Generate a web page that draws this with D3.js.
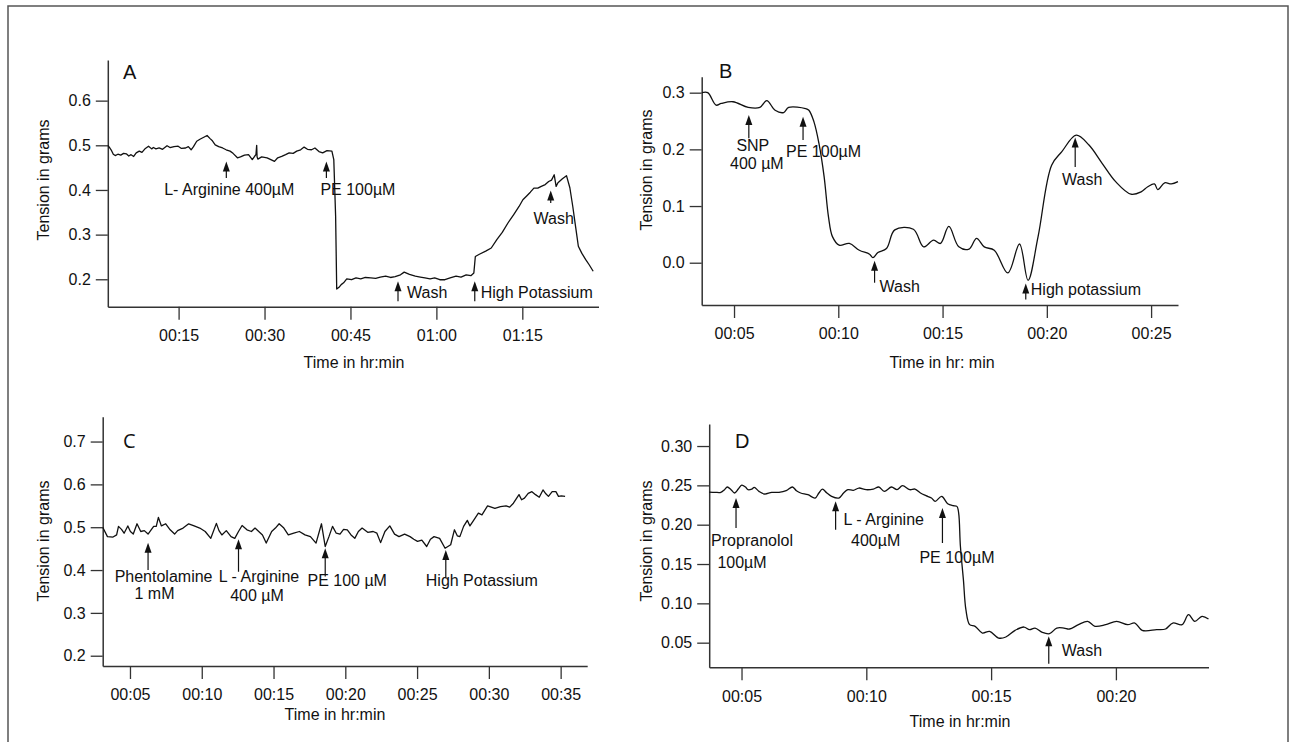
<!DOCTYPE html>
<html>
<head>
<meta charset="utf-8">
<script src="https://cdn.jsdelivr.net/npm/d3@7/dist/d3.min.js"></script>
<style>
  html, body { margin: 0; padding: 0; background: #fff; }
  svg { display: block; font-family: "Liberation Sans", Arial, sans-serif; }
</style>
</head>
<body>
<div id="chart"></div>
<script>
const [WIDTH, HEIGHT] = [1290, 742];

// ---- data (time in minutes, tension in grams) ----
const timeA = [2.64, 3.0, 3.3, 3.6, 3.93, 4.4, 4.9, 5.4, 5.87, 6.3, 6.7, 7.16, 7.6, 8.13, 8.6, 9.2, 9.75, 10.3, 10.6, 11.04,
    11.6, 12.2, 12.98, 13.5, 14.2, 14.92, 15.5, 16.22, 16.7, 17.19, 17.6, 18.16, 18.8, 19.4, 19.97, 20.5, 20.9, 21.39, 22.0, 22.68,
    23.3, 23.98, 24.5, 25.27, 25.8, 26.5, 27.21, 27.86, 28.3, 28.5, 28.63, 28.7, 28.83, 29.5, 30.45, 31.1, 31.74, 32.3, 33.0, 33.68,
    34.3, 35.0, 35.62, 36.3, 36.91, 37.5, 38.21, 38.8, 39.5, 40.15, 40.9, 41.76, 42.09, 42.41, 42.6, 43.0, 43.38, 43.8, 44.35, 45.2,
    45.97, 46.8, 47.6, 48.56, 49.4, 50.2, 51.14, 52.0, 52.8, 53.73, 54.38, 55.3, 56.32, 57.2, 58.0, 58.9, 59.7, 60.6, 61.49, 62.4,
    63.43, 64.3, 65.2, 66.02, 66.54, 66.8, 67.5, 68.61, 69.58, 70.55, 71.5, 72.49, 73.5, 74.43, 75.1, 75.72, 76.4, 77.02, 77.7, 78.31,
    79.0, 79.6, 80.1, 80.57, 80.9, 81.22, 82.0, 82.71, 83.3, 83.81, 84.3, 84.78, 85.4, 86.07, 86.7, 87.37];
const tensionA = [0.500, 0.494, 0.488, 0.480, 0.477, 0.480, 0.478, 0.482, 0.481, 0.476, 0.479, 0.475, 0.483, 0.487, 0.484, 0.493, 0.498, 0.492, 0.495, 0.492,
    0.494, 0.491, 0.499, 0.495, 0.497, 0.498, 0.493, 0.494, 0.497, 0.490, 0.497, 0.509, 0.514, 0.518, 0.522, 0.515, 0.510, 0.501, 0.497, 0.494,
    0.490, 0.487, 0.482, 0.472, 0.474, 0.478, 0.479, 0.468, 0.476, 0.479, 0.500, 0.474, 0.469, 0.474, 0.472, 0.468, 0.464, 0.472, 0.475, 0.479,
    0.483, 0.482, 0.487, 0.490, 0.496, 0.491, 0.490, 0.494, 0.486, 0.483, 0.488, 0.487, 0.468, 0.341, 0.178, 0.182, 0.188, 0.192, 0.201, 0.199,
    0.203, 0.201, 0.204, 0.203, 0.202, 0.205, 0.207, 0.204, 0.206, 0.210, 0.216, 0.211, 0.207, 0.205, 0.203, 0.201, 0.203, 0.199, 0.199, 0.203,
    0.207, 0.205, 0.210, 0.208, 0.214, 0.251, 0.256, 0.263, 0.270, 0.289, 0.305, 0.326, 0.345, 0.363, 0.378, 0.386, 0.395, 0.404, 0.404, 0.408,
    0.412, 0.419, 0.422, 0.434, 0.408, 0.416, 0.425, 0.432, 0.405, 0.363, 0.318, 0.274, 0.258, 0.244, 0.232, 0.218];

const timeB = [3.46, 3.74, 4.14, 4.39, 4.95, 5.68, 6.24, 6.57, 6.97, 7.38, 7.62, 8.43, 8.59, 8.83, 9.07, 9.32, 9.53, 9.72, 10.04, 10.53,
    11.01, 11.50, 11.66, 11.90, 12.31, 12.71, 13.60, 14.09, 14.57, 14.90, 15.30, 15.78, 16.27, 16.63, 17.00, 17.48, 18.13, 18.69, 19.10, 19.58,
    20.23, 20.72, 21.41, 22.01, 22.66, 23.30, 24.03, 24.52, 24.84, 25.16, 25.32, 25.65, 25.97, 26.29];
const tensionB = [0.300, 0.300, 0.278, 0.281, 0.284, 0.274, 0.274, 0.286, 0.269, 0.265, 0.274, 0.272, 0.269, 0.249, 0.211, 0.152, 0.081, 0.046, 0.031, 0.034,
    0.022, 0.015, 0.009, 0.018, 0.025, 0.058, 0.059, 0.028, 0.040, 0.034, 0.064, 0.028, 0.024, 0.043, 0.028, 0.022, -0.018, 0.033, -0.031, 0.046,
    0.172, 0.196, 0.225, 0.208, 0.175, 0.143, 0.121, 0.125, 0.134, 0.139, 0.129, 0.141, 0.139, 0.143];

const timeC = [3.10, 3.43, 3.82, 4.07, 4.20, 4.41, 4.59, 4.85, 5.03, 5.23, 5.49, 5.75, 6.00, 6.26, 6.65, 6.83, 6.98, 7.19, 7.49, 7.80,
    8.11, 8.32, 8.70, 9.09, 9.47, 9.86, 10.24, 10.63, 11.02, 11.20, 11.40, 11.71, 12.04, 12.30, 12.56, 12.81, 13.15, 13.46, 13.71, 13.97,
    14.23, 14.49, 14.87, 15.13, 15.39, 15.72, 16.03, 16.41, 16.80, 17.19, 17.57, 17.96, 18.34, 18.60, 18.86, 19.11, 19.37, 19.63, 19.88, 20.14,
    20.40, 20.66, 20.91, 21.17, 21.56, 21.94, 22.20, 22.46, 22.76, 23.10, 23.43, 23.74, 24.13, 24.51, 24.77, 25.03, 25.33, 25.67, 25.93, 26.18,
    26.57, 26.95, 27.34, 27.60, 27.80, 27.98, 28.24, 28.50, 28.68, 28.88, 29.27, 29.52, 29.91, 30.17, 30.42, 30.81, 31.20, 31.45, 31.71, 32.10,
    32.28, 32.48, 32.74, 33.00, 33.25, 33.51, 33.77, 33.97, 34.15, 34.41, 34.67, 34.85, 35.05, 35.31];
const tensionC = [0.500, 0.478, 0.477, 0.482, 0.502, 0.495, 0.486, 0.503, 0.490, 0.484, 0.508, 0.490, 0.492, 0.484, 0.502, 0.502, 0.523, 0.503, 0.508, 0.494,
    0.484, 0.492, 0.498, 0.508, 0.503, 0.498, 0.490, 0.474, 0.509, 0.492, 0.482, 0.492, 0.478, 0.474, 0.490, 0.504, 0.494, 0.490, 0.498, 0.490,
    0.482, 0.463, 0.490, 0.498, 0.508, 0.498, 0.482, 0.486, 0.490, 0.482, 0.478, 0.463, 0.508, 0.455, 0.478, 0.502, 0.486, 0.484, 0.495, 0.494,
    0.482, 0.474, 0.490, 0.498, 0.488, 0.490, 0.486, 0.464, 0.490, 0.503, 0.484, 0.478, 0.484, 0.478, 0.472, 0.467, 0.470, 0.455, 0.472, 0.478,
    0.474, 0.451, 0.459, 0.494, 0.480, 0.478, 0.502, 0.516, 0.503, 0.513, 0.533, 0.529, 0.550, 0.547, 0.544, 0.548, 0.550, 0.547, 0.556, 0.576,
    0.564, 0.568, 0.579, 0.583, 0.576, 0.570, 0.587, 0.578, 0.572, 0.583, 0.583, 0.572, 0.573, 0.572];

const timeD = [3.705, 3.95, 4.17, 4.32, 4.43, 4.58, 4.72, 4.87, 5.01, 5.16, 5.26, 5.41, 5.51, 5.70, 5.92, 6.21, 6.50, 6.79, 7.04, 7.20,
    7.37, 7.66, 7.95, 8.10, 8.24, 8.42, 8.61, 8.90, 9.09, 9.26, 9.48, 9.70, 9.99, 10.28, 10.50, 10.72, 11.01, 11.23, 11.45, 11.74,
    11.95, 12.17, 12.39, 12.61, 12.76, 13.02, 13.26, 13.48, 13.63, 13.70, 13.77, 13.89, 13.99, 14.14, 14.36, 14.65, 14.94, 15.30, 15.59, 15.96,
    16.32, 16.54, 16.76, 17.05, 17.34, 17.63, 17.92, 18.14, 18.50, 18.87, 19.16, 19.59, 20.03, 20.47, 20.76, 21.05, 21.63, 21.99, 22.28, 22.65,
    22.91, 23.16, 23.45, 23.71];
const tensionD = [0.2415, 0.2411, 0.2411, 0.2445, 0.2479, 0.2445, 0.2403, 0.2453, 0.2504, 0.2479, 0.2445, 0.2453, 0.2475, 0.2424, 0.2390, 0.2411, 0.2411, 0.2432, 0.2479, 0.2432,
    0.2403, 0.2381, 0.2339, 0.2403, 0.2453, 0.2403, 0.2360, 0.2339, 0.2403, 0.2445, 0.2436, 0.2466, 0.2445, 0.2453, 0.2479, 0.2424, 0.2479, 0.2445, 0.2496, 0.2445,
    0.2453, 0.2403, 0.2369, 0.2339, 0.2297, 0.2360, 0.2267, 0.2242, 0.2233, 0.2148, 0.1725, 0.1301, 0.0919, 0.0729, 0.0708, 0.0623, 0.0644, 0.0559, 0.0572, 0.0657,
    0.0699, 0.0665, 0.0686, 0.0631, 0.0614, 0.0686, 0.0686, 0.0674, 0.0729, 0.0771, 0.0708, 0.0729, 0.0771, 0.0729, 0.0750, 0.0657, 0.0665, 0.0674, 0.0750, 0.0729,
    0.0856, 0.0771, 0.0835, 0.0801];

// tick values
const xTicksA = [15, 30, 45, 60, 75];
const xTicksB = [5, 10, 15, 20, 25];
const xTicksC = [5, 10, 15, 20, 25, 30, 35];
const xTicksD = [5, 10, 15, 20];
const yTicksA = [0.2, 0.3, 0.4, 0.5, 0.6];
const yTicksB = [0.0, 0.1, 0.2, 0.3];
const yTicksC = [0.2, 0.3, 0.4, 0.5, 0.6, 0.7];
const yTicksD = [0.05, 0.10, 0.15, 0.20, 0.25, 0.30];

// drug additions: time, arrow tip / tail tension
const eventsA = [
    { t: 23.33, tip: 0.464, tail: 0.427, text: ['L- Arginine 400µM'] },
    { t: 40.8, tip: 0.464, tail: 0.427, text: ['PE 100µM'] },
    { t: 53.3, tip: 0.1955, tail: 0.151, text: ['Wash'] },
    { t: 66.7, tip: 0.1955, tail: 0.151, text: ['High Potassium'] },
    { t: 79.96, tip: 0.399, tail: 0.371, text: ['Wash'] },
];
const eventsB = [
    { t: 5.71, tip: 0.2606, tail: 0.2194, text: ['SNP', '400 µM'] },
    { t: 8.31, tip: 0.2576, tail: 0.2165, text: ['PE 100µM'] },
    { t: 11.74, tip: 0.0035, tail: -0.0353, text: ['Wash'] },
    { t: 18.99, tip: -0.0365, tail: -0.0647, text: ['High potassium'] },
    { t: 21.36, tip: 0.221, tail: 0.169, text: ['Wash'] },
];
const eventsC = [
    { t: 6.26, tip: 0.464, tail: 0.400, text: ['Phentolamine', '1 mM'] },
    { t: 12.56, tip: 0.472, tail: 0.396, text: ['L - Arginine', '400 µM'] },
    { t: 18.6, tip: 0.451, tail: 0.385, text: ['PE 100 µM'] },
    { t: 27.0, tip: 0.447, tail: 0.381, text: ['High Potassium'] },
];
const eventsD = [
    { t: 4.78, tip: 0.2339, tail: 0.1958, text: ['Propranolol', '100µM'] },
    { t: 8.77, tip: 0.2297, tail: 0.1936, text: ['L - Arginine', '400µM'] },
    { t: 13.05, tip: 0.2212, tail: 0.1767, text: ['PE 100µM'] },
    { t: 17.31, tip: 0.0581, tail: 0.0233, text: ['Wash'] },
];

// ---- layout (pixels) ----
const FONT = 16;
const LINE_COLOR = '#111';
const AXIS_COLOR = '#333';

// label offsets relative to arrow tail: one [dx, dy, anchor] per line
const panels = [
    {
        letter: 'A', letterFont: '"Liberation Sans", Arial', letterPos: [123, 79],
        time: timeA, tension: tensionA, events: eventsA, xTicks: xTicksA, yTicks: yTicksA,
        xRange: [107.8, 598.5], xDomain: [2.64, 88.3], yRange: [306.7, 60], yDomain: [0.1386, 0.691],
        yFormat: '.1f', curve: d3.curveLinear,
        xTitle: 'Time in hr:min', xTitlePos: [354, 368], yTitlePos: [45, 180],
        labelOffsets: [[[3, 17, 'middle']], [[-6, 17, 'start']], [[9, -3, 'start']], [[6, -3, 'start']], [[3, 21, 'middle']]],
    },
    {
        letter: 'B', letterFont: '"Liberation Sans", Arial', letterPos: [719, 78],
        time: timeB, tension: tensionB, events: eventsB, xTicks: xTicksB, yTicks: yTicksB,
        xRange: [701.7, 1178], xDomain: [3.45, 26.29], yRange: [305, 76.7], yDomain: [-0.0746, 0.3282],
        yFormat: '.1f', curve: d3.curveCatmullRom,
        xTitle: 'Time in hr: min', xTitlePos: [942, 368], yTitlePos: [648, 170],
        labelOffsets: [[[4, 13, 'middle'], [8, 31, 'middle']], [[-17, 17, 'start']], [[5, 9, 'start']], [[5, -4, 'start']], [[7, 18, 'middle']]],
    },
    {
        letter: 'C', letterFont: '"Open Sans", "Noto Sans", sans-serif', letterPos: [123, 448],
        time: timeC, tension: tensionC, events: eventsC, xTicks: xTicksC, yTicks: yTicksC,
        xRange: [102.7, 587.2], xDomain: [3.1, 36.85], yRange: [666, 416.7], yDomain: [0.176, 0.758],
        yFormat: '.1f', curve: d3.curveLinear,
        xTitle: 'Time in hr:min', xTitlePos: [335, 720], yTitlePos: [45, 541],
        labelOffsets: [[[15.5, 11.6, 'middle'], [6.4, 29, 'middle']], [[20.5, 10, 'middle'], [18.5, 29, 'middle']], [[22, 10, 'middle']], [[36, 7.5, 'middle']]],
    },
    {
        letter: 'D', letterFont: '"Liberation Sans", Arial', letterPos: [735, 448],
        time: timeD, tension: tensionD, events: eventsD, xTicks: xTicksD, yTicks: yTicksD,
        xRange: [709.2, 1208.5], xDomain: [3.705, 23.71], yRange: [667.3, 424], yDomain: [0.0187, 0.328],
        yFormat: '.2f', curve: d3.curveCatmullRom,
        xTitle: 'Time in hr:min', xTitlePos: [960, 727], yTitlePos: [648, 541],
        labelOffsets: [[[16, 18, 'middle'], [6, 40, 'middle']], [[8, -4.7, 'start'], [40, 16, 'middle']], [[-23, 20, 'start']], [[13, -8, 'start']]],
    },
];

function fmtTime(m) {
    const hh = Math.floor(m / 60), mm = Math.round(m % 60);
    return String(hh).padStart(2, '0') + ':' + String(mm).padStart(2, '0');
}

const svg = d3.select('#chart').append('svg')
    .attr('width', WIDTH)
    .attr('height', HEIGHT)
    .attr('viewBox', `0 0 ${WIDTH} ${HEIGHT}`);

// outer frame
svg.append('rect')
    .attr('x', 8).attr('y', 6)
    .attr('width', 1280).attr('height', 760)
    .attr('fill', 'none')
    .attr('stroke', '#555')
    .attr('stroke-width', 1.5);

panels.forEach(drawPanel);

function drawPanel(p) {
    const x = d3.scaleLinear().domain(p.xDomain).range(p.xRange);
    const y = d3.scaleLinear().domain(p.yDomain).range(p.yRange);
    const g = svg.append('g').attr('class', 'panel');

    // axes
    const xAxis = d3.axisBottom(x)
        .tickValues(p.xTicks)
        .tickFormat(fmtTime)
        .tickSizeInner(13)
        .tickSizeOuter(0)
        .tickPadding(10);
    const yAxis = d3.axisLeft(y)
        .tickValues(p.yTicks)
        .tickFormat(d3.format(p.yFormat))
        .tickSizeInner(12)
        .tickSizeOuter(0)
        .tickPadding(5);

    g.append('g')
        .attr('transform', `translate(0,${p.yRange[0]})`)
        .call(xAxis)
        .call(styleAxis);
    g.append('g')
        .attr('transform', `translate(${p.xRange[0]},0)`)
        .call(yAxis)
        .call(styleAxis);

    // trace
    const line = d3.line()
        .x((d, i) => x(p.time[i]))
        .y((d) => y(d))
        .curve(p.curve);
    g.append('path')
        .datum(p.tension)
        .attr('d', line)
        .attr('fill', 'none')
        .attr('stroke', LINE_COLOR)
        .attr('stroke-width', 1.3)
        .attr('stroke-linejoin', 'round');

    // event arrows
    const ev = g.selectAll('.event')
        .data(p.events)
        .enter()
        .append('g')
        .attr('class', 'event');
    ev.append('line')
        .attr('x1', (d) => x(d.t)).attr('x2', (d) => x(d.t))
        .attr('y1', (d) => y(d.tail)).attr('y2', (d) => y(d.tip) + 6)
        .attr('stroke', LINE_COLOR)
        .attr('stroke-width', 1.2);
    ev.append('path')
        .attr('d', (d) => {
            const cx = x(d.t), ty = y(d.tip);
            return `M${cx},${ty}L${cx - 3.5},${ty + 10}L${cx + 3.5},${ty + 10}Z`;
        })
        .attr('fill', LINE_COLOR);
    ev.each(function (d, i) {
        const offs = p.labelOffsets[i];
        d.text.forEach((txt, j) => {
            const [dx, dy, anchor] = offs[j];
            d3.select(this).append('text')
                .attr('x', x(d.t) + dx)
                .attr('y', y(d.tail) + dy)
                .attr('text-anchor', anchor)
                .attr('font-size', FONT)
                .attr('fill', '#111')
                .text(txt);
        });
    });

    // panel letter
    g.append('text')
        .attr('x', p.letterPos[0]).attr('y', p.letterPos[1])
        .attr('font-family', p.letterFont)
        .attr('font-size', 20)
        .attr('fill', '#111')
        .text(p.letter);

    // axis titles
    g.append('text')
        .attr('x', p.xTitlePos[0]).attr('y', p.xTitlePos[1])
        .attr('text-anchor', 'middle')
        .attr('font-size', FONT)
        .attr('fill', '#111')
        .text(p.xTitle);
    g.append('text')
        .attr('transform', `translate(${p.yTitlePos[0]},${p.yTitlePos[1]}) rotate(-90)`)
        .attr('text-anchor', 'middle')
        .attr('dominant-baseline', 'middle')
        .attr('font-size', FONT)
        .attr('fill', '#111')
        .text('Tension in grams');
}

function styleAxis(sel) {
    sel.attr('font-family', null).attr('font-size', null);
    sel.select('.domain').attr('stroke', AXIS_COLOR).attr('stroke-width', 1.5);
    sel.selectAll('.tick line').attr('stroke', AXIS_COLOR).attr('stroke-width', 1.3);
    sel.selectAll('.tick text').attr('font-size', FONT).attr('fill', '#111');
}
</script>
</body>
</html>
